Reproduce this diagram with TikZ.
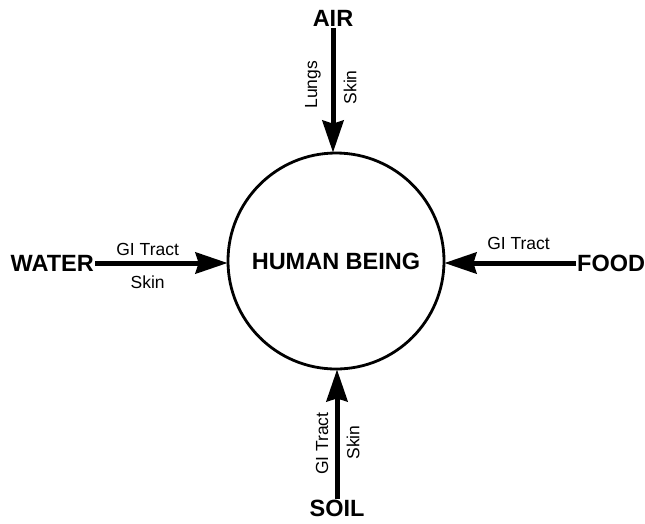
\documentclass[tikz,border=0pt]{standalone}
\usepackage{fontspec}
\setmainfont{Liberation Sans}
\usetikzlibrary{arrows.meta}
\begin{document}
\begin{tikzpicture}[x=1pt,y=-1pt,
  big/.style={font=\fontsize{23.5}{26}\selectfont\bfseries, inner sep=1pt},
  lbl/.style={font=\fontsize{17.5}{20}\selectfont, inner sep=0pt},
  arr/.style={line width=5pt, -{Stealth[length=32pt,width=21pt,inset=3pt]}, shorten >=-1pt}]
\useasboundingbox (0,0) rectangle (645,523);
\node[circle, draw, line width=2.8pt, minimum size=216pt, inner sep=0pt,
      font=\fontsize{23.5}{26}\selectfont\bfseries] (h) at (336,261) {HUMAN BEING};
\node[big, anchor=south] (air) at (333,28) {AIR};
\node[big, anchor=east] (water) at (95,263) {WATER};
\node[big, anchor=west] (food) at (576,263) {FOOD};
\node[big, anchor=north] (soil) at (337,499) {SOIL};
\draw[arr] (air.south) -- (air.south |- h.north)
  node[lbl, pos=.46, xshift=-20pt, rotate=90] {Lungs}
  node[lbl, pos=.48, xshift=17pt, rotate=90] {Skin};
\draw[arr] (water.east) -- (water.east -| h.west)
  node[lbl, pos=.4, yshift=14pt] {GI Tract}
  node[lbl, pos=.4, yshift=-19pt] {Skin};
\draw[arr] (food.west) -- (food.west -| h.east)
  node[lbl, pos=.44, yshift=20pt] {GI Tract};
\draw[arr] (soil.north) -- (soil.north |- h.south)
  node[lbl, pos=.43, xshift=-15pt, rotate=90] {GI Tract}
  node[lbl, pos=.44, xshift=16pt, rotate=90] {Skin};
\end{tikzpicture}
\end{document}
